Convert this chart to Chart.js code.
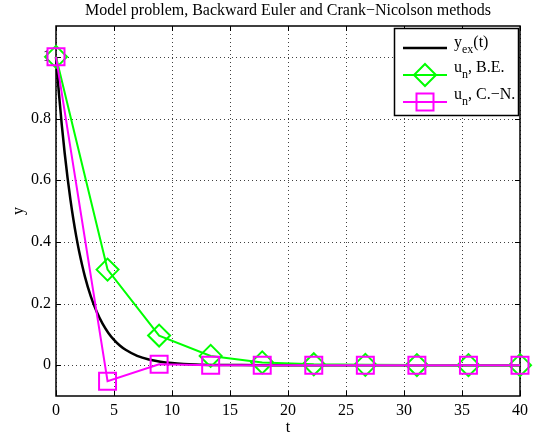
<!DOCTYPE html>
<html>
<head>
<meta charset="utf-8">
<script src="https://cdn.jsdelivr.net/npm/chart.js@4/dist/chart.umd.min.js"></script>
<style>
  html, body { margin: 0; padding: 0; background: #fff; }
  #wrap { width: 534px; height: 438px; }
</style>
</head>
<body>
<div id="wrap"><canvas id="c" width="534" height="438"></canvas></div>
<script>
// ---- data ----
const titleText = 'Model problem, Backward Euler and Crank\u2212Nicolson methods';
const xTicks = [0, 5, 10, 15, 20, 25, 30, 35, 40];
const yTicks = [0, 0.2, 0.4, 0.6, 0.8, 1];
const tNodes = [0, 4.444, 8.889, 13.333, 17.778, 22.222, 26.667, 31.111, 35.556, 40];
const beValues = [1, 0.310, 0.096, 0.030, 0.009, 0.003, 0.001, 0.0003, 0.0001, 0.00003];
const cnValues = [1, -0.052, 0.003, -0.0002, 0, 0, 0, 0, 0, 0];
const exactT = [0, 0.25, 0.5, 0.75, 1, 1.25, 1.5, 1.75, 2, 2.5, 3, 3.5, 4, 4.5, 5, 5.5, 6, 7, 8, 9, 10, 11, 12, 14, 16, 18, 20, 25, 30, 35, 40];
const exactY = [1, 0.8825, 0.7788, 0.6873, 0.6065, 0.5353, 0.4724, 0.4169, 0.3679, 0.2865, 0.2231, 0.1738, 0.1353, 0.1054, 0.0821, 0.0639, 0.0498, 0.0302, 0.0183, 0.0111, 0.0067, 0.0041, 0.0025, 0.0009, 0.0003, 0.0001, 0.00005, 0, 0, 0, 0];

const FONT = '"Liberation Serif", "Times New Roman", serif';
const GREEN = '#00ff00';
const MAGENTA = '#ff00ff';

function pts(xs, ys) { return xs.map((x, i) => ({ x: x, y: ys[i] })); }

const framePlugin = {
  id: 'frame',
  beforeDatasetsDraw(chart) {
    const ctx = chart.ctx;
    const a = chart.chartArea;
    const xs = chart.scales.x, ys = chart.scales.y;
    ctx.save();
    // title centred over the plot box
    ctx.fillStyle = '#000';
    ctx.font = '16px ' + FONT;
    ctx.textAlign = 'center';
    ctx.textBaseline = 'middle';
    ctx.fillText(titleText, (a.left + a.right) / 2, 11);
    // dotted grid
    ctx.strokeStyle = '#404040';
    ctx.lineWidth = 1;
    ctx.setLineDash([1, 3]);
    xTicks.forEach(v => {
      const px = Math.round(xs.getPixelForValue(v)) + 0.5;
      ctx.beginPath(); ctx.moveTo(px, a.top); ctx.lineTo(px, a.bottom); ctx.stroke();
    });
    yTicks.forEach(v => {
      const py = Math.round(ys.getPixelForValue(v)) + 0.5;
      ctx.beginPath(); ctx.moveTo(a.left, py); ctx.lineTo(a.right, py); ctx.stroke();
    });
    ctx.setLineDash([]);
    // box
    ctx.strokeStyle = '#000';
    ctx.lineWidth = 1.5;
    ctx.strokeRect(a.left, a.top, a.right - a.left, a.bottom - a.top);
    // inward ticks
    const tl = 5;
    ctx.lineWidth = 1;
    xTicks.forEach(v => {
      const px = Math.round(xs.getPixelForValue(v)) + 0.5;
      ctx.beginPath();
      ctx.moveTo(px, a.bottom); ctx.lineTo(px, a.bottom - tl);
      ctx.moveTo(px, a.top); ctx.lineTo(px, a.top + tl);
      ctx.stroke();
    });
    yTicks.forEach(v => {
      const py = Math.round(ys.getPixelForValue(v)) + 0.5;
      ctx.beginPath();
      ctx.moveTo(a.left, py); ctx.lineTo(a.left + tl, py);
      ctx.moveTo(a.right, py); ctx.lineTo(a.right - tl, py);
      ctx.stroke();
    });
    ctx.restore();
  },
  afterDraw(chart) {
    const ctx = chart.ctx;
    ctx.save();
    // legend box
    const bx = 394, by = 28, bw = 124, bh = 87;
    ctx.fillStyle = '#fff';
    ctx.fillRect(bx, by, bw, bh);
    ctx.strokeStyle = '#000';
    ctx.lineWidth = 1.5;
    ctx.strokeRect(bx + 0.5, by + 0.5, bw, bh);
    const rows = [48, 75, 102];
    const lx0 = 403, lx1 = 447, mx = 425, tx = 454;
    // row 1: exact
    ctx.strokeStyle = '#000'; ctx.lineWidth = 2.5;
    ctx.beginPath(); ctx.moveTo(lx0, rows[0]); ctx.lineTo(lx1, rows[0]); ctx.stroke();
    // row 2: BE
    ctx.strokeStyle = GREEN; ctx.lineWidth = 2;
    ctx.beginPath(); ctx.moveTo(lx0, rows[1]); ctx.lineTo(lx1, rows[1]); ctx.stroke();
    const r = 11;
    ctx.beginPath();
    ctx.moveTo(mx, rows[1] - r); ctx.lineTo(mx + r, rows[1]); ctx.lineTo(mx, rows[1] + r); ctx.lineTo(mx - r, rows[1]); ctx.closePath();
    ctx.stroke();
    // row 3: CN
    ctx.strokeStyle = MAGENTA; ctx.lineWidth = 2;
    ctx.beginPath(); ctx.moveTo(lx0, rows[2]); ctx.lineTo(lx1, rows[2]); ctx.stroke();
    const s = 8.5;
    ctx.strokeRect(mx - s, rows[2] - s, 2 * s, 2 * s);
    // texts
    ctx.fillStyle = '#000';
    ctx.textBaseline = 'alphabetic';
    ctx.textAlign = 'left';
    const main = '16px ' + FONT, sub = '12px ' + FONT;
    function seq(parts, x, y) {
      parts.forEach(p => {
        ctx.font = p.sub ? sub : main;
        ctx.fillText(p.t, x, y + (p.sub ? 6 : 0));
        x += ctx.measureText(p.t).width;
      });
    }
    seq([{ t: 'y' }, { t: 'ex', sub: true }, { t: '(t)' }], tx, rows[0] - 1);
    seq([{ t: 'u' }, { t: 'n', sub: true }, { t: ', B.E.' }], tx, rows[1] - 3);
    seq([{ t: 'u' }, { t: 'n', sub: true }, { t: ', C.\u2212N.' }], tx, rows[2] - 3);
    ctx.restore();
  }
};

new Chart(document.getElementById('c'), {
  type: 'line',
  data: {
    datasets: [
      {
        label: 'y_ex(t)',
        data: pts(exactT, exactY),
        borderColor: '#000', borderWidth: 2.5,
        pointRadius: 0, cubicInterpolationMode: 'monotone',
        fill: false, clip: false, order: 3
      },
      {
        label: 'u_n, B.E.',
        data: pts(tNodes, beValues),
        borderColor: GREEN, borderWidth: 2,
        pointStyle: 'rectRot', pointRadius: 11, pointBorderWidth: 2,
        pointBorderColor: GREEN, pointBackgroundColor: 'rgba(0,0,0,0)',
        tension: 0, fill: false, clip: false, order: 2
      },
      {
        label: 'u_n, C.-N.',
        data: pts(tNodes, cnValues),
        borderColor: MAGENTA, borderWidth: 2,
        pointStyle: 'rect', pointRadius: 12, pointBorderWidth: 2,
        pointBorderColor: MAGENTA, pointBackgroundColor: 'rgba(0,0,0,0)',
        tension: 0, fill: false, clip: false, order: 1
      }
    ]
  },
  options: {
    responsive: false,
    animation: false,
    events: [],
    layout: { padding: { left: 0, right: 10, top: 26, bottom: 0 } },
    plugins: {
      legend: { display: false },
      tooltip: { enabled: false },
      title: { display: false }
    },
    scales: {
      x: {
        type: 'linear', min: 0, max: 40,
        afterBuildTicks: s => { s.ticks = xTicks.map(v => ({ value: v })); },
        afterFit: s => { s.height = 42; },
        grid: { display: false, drawTicks: false, tickLength: 0 },
        border: { display: false },
        ticks: { color: '#000', padding: 5, maxRotation: 0, font: { family: FONT, size: 16 },
                 callback: v => String(v) },
        title: { display: true, text: 't', color: '#000', font: { family: FONT, size: 16 }, padding: { top: 0, bottom: 1 } }
      },
      y: {
        type: 'linear', min: -0.1, max: 1.1,
        afterBuildTicks: s => { s.ticks = yTicks.map(v => ({ value: v })); },
        afterFit: s => { s.width = 56; },
        grid: { display: false, drawTicks: false, tickLength: 0 },
        border: { display: false },
        ticks: { color: '#000', padding: 5, font: { family: FONT, size: 16 },
                 callback: v => String(Math.round(v * 10) / 10) },
        title: { display: true, text: 'y', color: '#000', font: { family: FONT, size: 16 }, padding: { top: 9, bottom: 0 } }
      }
    }
  },
  plugins: [framePlugin]
});
</script>
</body>
</html>
